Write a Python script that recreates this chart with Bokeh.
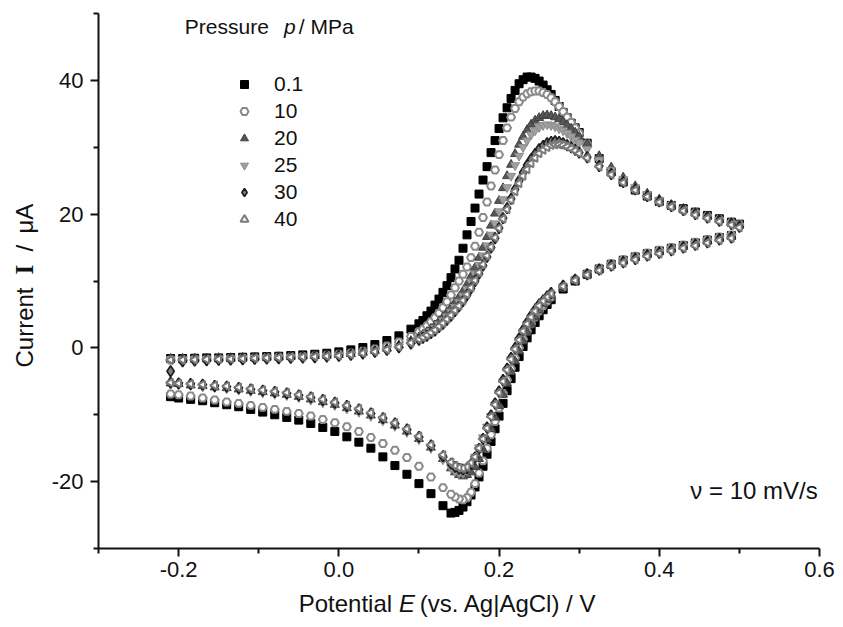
import math
from bokeh.plotting import figure
from bokeh.models import FixedTicker, PrintfTickFormatter, Label, Legend, LegendItem, Range1d
from bokeh.embed import file_html
from bokeh.resources import INLINE

# ---------------- data ----------------
# potential grid of the anodic (forward) and cathodic (reverse) sweeps, V
E_fwd = [-0.21, -0.195, -0.18, -0.165, -0.15, -0.135, -0.12, -0.105, -0.09, -0.075, -0.06, -0.045,
         -0.03, -0.015, 0.0, 0.015, 0.03, 0.045, 0.06, 0.075, 0.09,
         0.1, 0.105, 0.11, 0.115, 0.12, 0.125, 0.13, 0.135, 0.14, 0.145, 0.15, 0.155, 0.16, 0.165,
         0.17, 0.175, 0.18, 0.185, 0.19, 0.195, 0.2, 0.205, 0.21, 0.215, 0.22, 0.225, 0.23, 0.235,
         0.24, 0.245, 0.25, 0.255, 0.26, 0.265, 0.27, 0.275, 0.28, 0.285, 0.29, 0.295, 0.3,
         0.31, 0.325, 0.34, 0.355, 0.37, 0.385, 0.4, 0.415, 0.43, 0.445, 0.46, 0.475, 0.49, 0.5]
E_rev = [0.49, 0.475, 0.46, 0.445, 0.43, 0.415, 0.4, 0.385, 0.37, 0.355, 0.34, 0.325, 0.31, 0.295,
         0.28, 0.265,
         0.26, 0.255, 0.25, 0.245, 0.24, 0.235, 0.23, 0.225, 0.22, 0.215, 0.21, 0.205, 0.2, 0.195,
         0.19, 0.185, 0.18, 0.175, 0.17, 0.165, 0.16, 0.155, 0.15, 0.145, 0.14,
         0.13, 0.115, 0.1, 0.085, 0.07, 0.055, 0.04, 0.025, 0.01, -0.005, -0.02, -0.035, -0.05,
         -0.065, -0.08, -0.095, -0.11, -0.125, -0.14, -0.155, -0.17, -0.185, -0.2, -0.21]

pressures = ["0.1", "10", "20", "25", "30", "40"]

# current (uA), forward sweep
I_fwd_p01 = [-1.6, -1.6, -1.55, -1.5, -1.5, -1.45, -1.4, -1.35, -1.3, -1.25, -1.15, -1.05, -0.95, -0.8, -0.6, -0.3, 0.05, 0.5, 1.1, 1.8, 2.8,
             3.6, 4.1, 4.8, 5.5, 6.4, 7.3, 8.3, 9.3, 10.5, 11.8, 13.1, 14.9, 16.9, 18.9, 20.9, 23.0, 25.1, 27.1, 29.2, 31.0, 32.8, 34.4, 35.9, 37.3, 38.5, 39.5, 40.1, 40.5, 40.5, 40.3, 39.9, 39.3, 38.6, 37.9, 37.0, 36.1, 35.2, 34.4, 33.6, 32.9, 32.2,
             30.6, 28.3, 26.3, 24.8, 23.6, 22.7, 21.9, 21.3, 20.8, 20.3, 19.8, 19.3, 18.8, 18.5]
I_fwd_p10 = [-1.8, -1.8, -1.75, -1.7, -1.65, -1.6, -1.55, -1.5, -1.45, -1.4, -1.35, -1.3, -1.2, -1.1, -0.95, -0.75, -0.5, -0.15, 0.3, 0.9, 1.7,
             2.4, 2.8, 3.3, 3.9, 4.5, 5.2, 6.0, 6.9, 7.9, 9.0, 10.0, 11.0, 12.1, 13.5, 15.2, 17.3, 19.5, 21.8, 24.2, 26.6, 28.9, 31.0, 32.9, 34.5, 35.8, 36.8, 37.5, 38.0, 38.3, 38.4, 38.4, 38.2, 37.9, 37.4, 36.8, 36.1, 35.3, 34.5, 33.7, 32.9, 32.1,
             30.5, 28.3, 26.4, 24.9, 23.7, 22.7, 21.9, 21.3, 20.7, 20.2, 19.7, 19.2, 18.7, 18.4]
I_fwd_p20 = [-1.6, -1.6, -1.55, -1.55, -1.5, -1.5, -1.45, -1.4, -1.4, -1.35, -1.3, -1.25, -1.2, -1.15, -1.05, -0.9, -0.7, -0.45, -0.1, 0.4, 1.05,
             1.6, 2.0, 2.4, 2.9, 3.4, 4.0, 4.6, 5.3, 6.0, 6.8, 7.6, 8.5, 9.5, 10.7, 12.0, 13.5, 15.0, 16.6, 18.3, 20.1, 22.0, 23.9, 25.7, 27.4, 29.0, 30.4, 31.6, 32.6, 33.4, 34.0, 34.4, 34.7, 34.8, 34.7, 34.5, 34.2, 33.8, 33.3, 32.8, 32.2, 31.6,
             30.5, 28.7, 27.0, 25.5, 24.2, 23.1, 22.2, 21.4, 20.8, 20.2, 19.7, 19.2, 18.7, 18.3]
I_fwd_p25 = [-1.7, -1.7, -1.65, -1.65, -1.6, -1.6, -1.55, -1.5, -1.5, -1.45, -1.4, -1.35, -1.3, -1.25, -1.15, -1.0, -0.8, -0.55, -0.25, 0.2, 0.85,
             1.4, 1.7, 2.1, 2.5, 3.0, 3.5, 4.1, 4.7, 5.4, 6.1, 6.9, 7.8, 8.8, 9.9, 11.1, 12.4, 13.8, 15.3, 16.9, 18.6, 20.4, 22.2, 24.0, 25.7, 27.3, 28.7, 30.0, 31.0, 31.9, 32.5, 33.0, 33.3, 33.4, 33.3, 33.1, 32.8, 32.5, 32.1, 31.6, 31.1, 30.6,
             29.7, 28.1, 26.6, 25.2, 24.0, 23.0, 22.1, 21.3, 20.7, 20.1, 19.6, 19.1, 18.6, 18.2]
I_fwd_p30 = [-3.5, -2.0, -1.9, -1.85, -1.8, -1.75, -1.7, -1.65, -1.6, -1.55, -1.5, -1.45, -1.4, -1.3, -1.2, -1.05, -0.85, -0.6, -0.3, 0.1, 0.65,
             1.2, 1.5, 1.8, 2.2, 2.6, 3.1, 3.6, 4.2, 4.8, 5.5, 6.2, 7.0, 7.9, 8.9, 10.0, 11.1, 12.3, 13.6, 15.0, 16.4, 17.9, 19.4, 20.9, 22.3, 23.7, 25.0, 26.2, 27.3, 28.2, 29.0, 29.7, 30.2, 30.6, 30.8, 30.9, 30.8, 30.6, 30.3, 30.0, 29.6, 29.2,
             28.5, 27.2, 26.0, 24.8, 23.7, 22.7, 21.9, 21.2, 20.6, 20.0, 19.5, 19.0, 18.5, 18.1]
I_fwd_p40 = [-1.8, -1.8, -1.75, -1.7, -1.7, -1.65, -1.6, -1.55, -1.5, -1.45, -1.4, -1.35, -1.3, -1.25, -1.15, -1.0, -0.8, -0.55, -0.25, 0.15, 0.75,
             1.3, 1.6, 1.9, 2.3, 2.7, 3.2, 3.7, 4.3, 4.9, 5.6, 6.3, 7.1, 8.0, 9.0, 10.1, 11.3, 12.5, 13.8, 15.1, 16.5, 17.9, 19.3, 20.7, 22.1, 23.4, 24.6, 25.7, 26.7, 27.6, 28.4, 29.1, 29.6, 30.0, 30.3, 30.4, 30.4, 30.3, 30.1, 29.8, 29.5, 29.1,
             28.4, 27.1, 25.9, 24.7, 23.6, 22.6, 21.8, 21.1, 20.5, 19.9, 19.4, 18.9, 18.4, 18.0]

# current (uA), reverse sweep
I_rev_p01 = [16.8, 16.5, 16.1, 15.7, 15.3, 14.9, 14.5, 14.1, 13.6, 13.1, 12.5, 11.8, 11.0, 10.0, 8.8, 7.2,
             6.5, 5.7, 4.8, 3.8, 2.7, 1.5, 0.2, -1.3, -2.9, -4.6, -6.4, -8.3, -10.2, -12.1, -14.0, -15.9, -17.7, -19.3, -20.8, -22.0, -23.0, -23.8, -24.3, -24.6, -24.7,
             -23.6, -21.8, -20.3, -18.9, -17.6, -16.3, -15.0, -14.1, -13.3, -12.5, -11.9, -11.3, -10.8, -10.4, -10.0, -9.6, -9.2, -8.8, -8.5, -8.2, -7.9, -7.7, -7.5, -7.3]
I_rev_p10 = [16.9, 16.6, 16.2, 15.8, 15.4, 15.0, 14.6, 14.2, 13.7, 13.2, 12.6, 11.9, 11.1, 10.2, 9.1, 7.6,
             7.0, 6.3, 5.5, 4.6, 3.6, 2.5, 1.3, 0.0, -1.5, -3.1, -4.8, -6.8, -9.0, -11.0, -13.0, -15.0, -16.9, -18.7, -20.3, -21.6, -22.4, -22.7, -22.6, -22.3, -21.9,
             -20.9, -19.3, -17.7, -16.4, -15.3, -14.3, -13.4, -12.5, -11.8, -11.2, -10.7, -10.2, -9.8, -9.5, -9.2, -8.9, -8.6, -8.3, -8.1, -7.8, -7.5, -7.2, -7.0, -6.9]
I_rev_p20 = [16.7, 16.4, 16.0, 15.6, 15.2, 14.8, 14.4, 14.0, 13.5, 13.0, 12.4, 11.8, 11.0, 10.1, 9.0, 7.8,
             7.2, 6.5, 5.6, 4.6, 3.5, 2.3, 1.0, -0.5, -2.0, -3.6, -5.3, -7.0, -8.7, -10.4, -12.1, -13.7, -15.2, -16.6, -17.8, -18.6, -19.0, -19.2, -19.0, -18.6, -18.0,
             -16.6, -14.9, -13.6, -12.5, -11.6, -10.8, -10.1, -9.5, -9.0, -8.5, -8.1, -7.7, -7.3, -7.0, -6.8, -6.6, -6.4, -6.2, -6.0, -5.9, -5.7, -5.6, -5.4, -5.3]
I_rev_p25 = [16.6, 16.3, 15.9, 15.5, 15.1, 14.7, 14.3, 13.9, 13.4, 12.9, 12.3, 11.7, 11.0, 10.2, 9.2, 8.0,
             7.5, 6.9, 6.2, 5.4, 4.5, 3.5, 2.4, 1.1, -0.3, -1.8, -3.4, -5.1, -6.8, -8.5, -10.2, -11.8, -13.4, -14.9, -16.3, -17.5, -18.3, -18.7, -18.7, -18.4, -17.9,
             -16.7, -15.0, -13.7, -12.6, -11.7, -10.9, -10.2, -9.6, -9.1, -8.6, -8.2, -7.8, -7.4, -7.1, -6.9, -6.7, -6.5, -6.3, -6.1, -5.9, -5.8, -5.6, -5.5, -5.4]
I_rev_p30 = [16.5, 16.2, 15.8, 15.4, 15.0, 14.6, 14.2, 13.8, 13.3, 12.8, 12.3, 11.7, 11.0, 10.2, 9.3, 8.2,
             7.7, 7.1, 6.5, 5.7, 4.8, 3.8, 2.7, 1.4, 0.0, -1.5, -3.1, -4.8, -6.5, -8.3, -10.1, -11.9, -13.6, -15.1, -16.4, -17.4, -18.0, -18.2, -18.1, -17.8, -17.3,
             -16.2, -14.6, -13.3, -12.2, -11.3, -10.5, -9.8, -9.2, -8.7, -8.2, -7.8, -7.4, -7.1, -6.8, -6.6, -6.4, -6.2, -6.0, -5.8, -5.7, -5.5, -5.4, -5.3, -5.2]
I_rev_p40 = [16.4, 16.1, 15.7, 15.3, 14.9, 14.5, 14.1, 13.7, 13.2, 12.7, 12.2, 11.6, 10.9, 10.1, 9.2, 8.1,
             7.6, 7.0, 6.3, 5.5, 4.6, 3.6, 2.5, 1.2, -0.2, -1.7, -3.3, -5.0, -6.7, -8.5, -10.3, -12.0, -13.6, -15.0, -16.3, -17.2, -17.8, -18.0, -17.9, -17.6, -17.1,
             -16.0, -14.5, -13.2, -12.1, -11.2, -10.4, -9.7, -9.1, -8.6, -8.1, -7.7, -7.3, -7.0, -6.7, -6.5, -6.3, -6.1, -5.9, -5.7, -5.6, -5.5, -5.4, -5.3, -5.2]

I_fwd = [I_fwd_p01, I_fwd_p10, I_fwd_p20, I_fwd_p25, I_fwd_p30, I_fwd_p40]
I_rev = [I_rev_p01, I_rev_p10, I_rev_p20, I_rev_p25, I_rev_p30, I_rev_p40]
for a in I_fwd:
    assert len(a) == len(E_fwd), (len(a), len(E_fwd))
for a in I_rev:
    assert len(a) == len(E_rev), (len(a), len(E_rev))

# ---------------- styles ----------------
styles = [
    dict(marker="square", size=8, fill_color="#000000", line_color="#000000", line_width=1, angle=0),
    dict(marker="hex", size=8, fill_color="#ffffff", line_color="#8a8a8a", line_width=2, angle=0),
    dict(marker="triangle", size=9, fill_color="#565656", line_color="#404040", line_width=1, angle=0),
    dict(marker="inverted_triangle", size=9, fill_color="#a0a0a0", line_color="#8c8c8c", line_width=1, angle=0),
    dict(marker="diamond", size=11, fill_color="#7c7c7c", line_color="#1c1c1c", line_width=1.6, angle=0),
    dict(marker="triangle", size=8, fill_color="#ffffff", line_color="#7a7a7a", line_width=2, angle=math.pi / 2),
]

FONT = "Liberation Sans"
W, H = 835, 619
# pixel layout of the axes box: x -0.3 -> 98 px, 0.6 -> 819 px ; y -30 -> 548 px, 50 -> 13 px
XL, XR = 98, 819
SX = (XR - XL) / 0.9
SY = (548 - 13) / 80.0
X0 = -0.3 - XL / SX
X1 = X0 + W / SX
Y0 = -30 - (H - 548) / SY
Y1 = Y0 + H / SY

p = figure(width=W, height=H, x_range=Range1d(X0, X1), y_range=Range1d(Y0, Y1),
           output_backend="svg", toolbar_location=None, min_border=0,
           min_border_left=0, min_border_right=0, min_border_top=0, min_border_bottom=0)
p.xgrid.visible = False
p.ygrid.visible = False
p.outline_line_color = None
p.background_fill_color = "white"
p.border_fill_color = "white"

for ax in (p.xaxis[0], p.yaxis[0]):
    ax.axis_line_width = 2
    ax.axis_line_color = "#111111"
    ax.major_tick_line_width = 2
    ax.minor_tick_line_width = 2
    ax.major_tick_line_color = "#111111"
    ax.minor_tick_line_color = "#111111"
    ax.major_tick_out = 8
    ax.major_tick_in = 0
    ax.minor_tick_out = 5
    ax.minor_tick_in = 0
    ax.major_label_text_font = FONT
    ax.major_label_text_font_size = "22px"
    ax.major_label_text_color = "#111111"

p.xaxis.fixed_location = -30
p.xaxis.bounds = (-0.3, 0.6)
p.xaxis.ticker = FixedTicker(ticks=[-0.2, 0.0, 0.2, 0.4, 0.6], minor_ticks=[-0.3, -0.1, 0.1, 0.3, 0.5])
p.xaxis.formatter = PrintfTickFormatter(format="%.1f")
p.xaxis.major_label_standoff = 5
p.yaxis.fixed_location = -0.3
p.yaxis.bounds = (-30, 50)
p.yaxis.ticker = FixedTicker(ticks=[-20, 0, 20, 40], minor_ticks=[-30, -10, 10, 30, 50])
p.yaxis.formatter = PrintfTickFormatter(format="%d")
p.yaxis.major_label_standoff = 7

renderers = []
for I_f, I_r, st in zip(I_fwd, I_rev, styles):
    r = p.scatter(x=E_fwd + E_rev, y=I_f + I_r, **st)
    renderers.append(r)


def fx(px):
    """map a horizontal pixel position of the reference onto this canvas"""
    return XL + (px - 100) * (XR - XL) / 727.0


# legend
legend = Legend(items=[LegendItem(label=lab, renderers=[r]) for lab, r in zip(pressures, renderers)],
                location=(round(fx(247) - 10), 396 - 8), padding=0, margin=0, spacing=3,
                glyph_width=20, glyph_height=22, label_height=22, label_standoff=20,
                label_text_font=FONT, label_text_font_size="21px", label_text_color="#111111",
                border_line_color=None, background_fill_alpha=0)
p.add_layout(legend)


# helpers converting pixel targets into data positions for text placement
def dx(px):
    return X0 + fx(px) / SX


def dy(py):
    return Y1 - py / SY


def lab(text, x, y, size, align="left", angle=0.0, font=FONT, style="normal"):
    p.add_layout(Label(x=x, y=y, text=text, text_font=font, text_font_size=size, text_font_style=style,
                       text_align=align, text_baseline="middle", angle=angle, text_color="#111111"))


# legend title "Pressure p / MPa" (vertical centre of the text line)
lab("Pressure", dx(187), dy(26), "21px")
lab("p", dx(287), dy(26), "21px", style="italic")
lab("/ MPa", dx(302), dy(26), "21px")

# scan rate
lab("\u03bd = 10 mV/s", dx(761), dy(490), "24px", align="center")

# x-axis title
lab("Potential", dx(396), dy(603), "24px", align="right")
lab("E", dx(403), dy(603), "24px", style="italic")
lab("(vs. Ag|AgCl) / V", dx(424), dy(603), "24px")

# y-axis title (rotated, reading upwards)
ang = math.pi / 2
for txt, py, size, font, style in [("Current", 367, "24px", FONT, "normal"),
                                   ("I", 274, "25px", "Liberation Serif", "bold"),
                                   ("/", 251, "24px", FONT, "normal"),
                                   ("\u03bcA", 233, "24px", FONT, "normal")]:
    p.add_layout(Label(x=X0 + 24 / SX, y=dy(py), text=txt, text_font=font, text_font_size=size,
                       text_font_style=style, text_align="left", text_baseline="middle",
                       angle=ang, text_color="#111111"))

open("out.html", "w").write(file_html(p, INLINE))
